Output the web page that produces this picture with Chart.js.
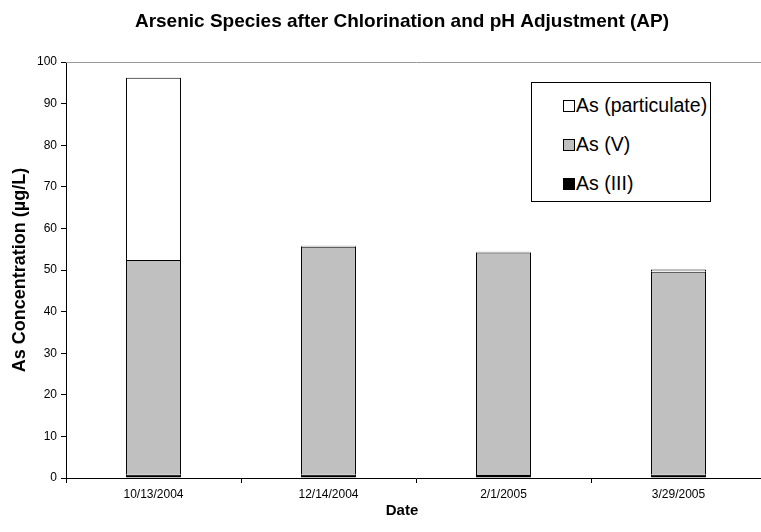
<!DOCTYPE html>
<html>
<head>
<meta charset="utf-8">
<script src="https://cdn.jsdelivr.net/npm/chart.js@4"></script>
<style>
  html, body { margin: 0; padding: 0; background: #fff; overflow: hidden; }
  #wrap { position: relative; width: 761px; height: 532px; overflow: hidden; }
  #legend {
    position: absolute; left: 531px; top: 82px; width: 178px; height: 118px;
    border: 1px solid #000; background: #fff;
    font-family: "Liberation Sans", Arial, sans-serif; font-size: 19.5px; color: #000;
  }
  #legend .item { position: absolute; left: 31px; height: 22px; line-height: 22px; white-space: nowrap; }
  #legend .box { display: inline-block; width: 10px; height: 10px; border: 1px solid #000; margin-right: 1px; vertical-align: 0px; }
</style>
</head>
<body>
<div id="wrap">
  <canvas id="chart" width="804" height="532"></canvas>
  <div id="legend"></div>
</div>
<script>
// sample dates
const dates = ['10/13/2004', '12/14/2004', '2/1/2005', '3/29/2005'];
// As concentrations in ug/L
const as3 = [0.8, 0.8, 0.7, 0.8];
const as5 = [51.6, 54.8, 53.5, 48.8];
const asPart = [43.8, 0.2, 0.2, 0.5];
const yTicks = [0, 10, 20, 30, 40, 50, 60, 70, 80, 90, 100];

const fontFam = '"Liberation Sans", Arial, sans-serif';

const ctx = document.getElementById('chart');
const chart = new Chart(ctx, {
  type: 'bar',
  data: {
    labels: dates,
    datasets: [
      { label: 'As (III)', data: as3, backgroundColor: '#000000' },
      { label: 'As (V)', data: as5, backgroundColor: '#c0c0c0' },
      { label: 'As (particulate)', data: asPart, backgroundColor: '#ffffff' }
    ].map(d => Object.assign(d, {
      xAxisID: 'x',
      yAxisID: 'y',
      borderColor: '#000000',
      borderWidth: 1,
      categoryPercentage: 1,
      barPercentage: 0.314
    }))
  },
  options: {
    responsive: false,
    animation: false,
    layout: { padding: 0 },
    plugins: {
      legend: { display: false },
      tooltip: { enabled: false },
      title: {
        display: true,
        text: 'Arsenic Species after Chlorination and pH Adjustment (AP)',
        color: '#000',
        font: { family: fontFam, size: 19, weight: 'bold' },
        padding: { top: 10.6, bottom: 28.6 }
      },
      subtitle: {
        display: true,
        position: 'bottom',
        text: 'Date',
        color: '#000',
        font: { family: fontFam, size: 15, weight: 'bold' },
        padding: { top: 0, bottom: 12 }
      }
    },
    scales: {
      x: {
        stacked: true,
        afterFit: s => { s.height = 24; },
        grid: { display: true, offset: true, drawOnChartArea: false, drawTicks: true, tickLength: 5, color: '#000' },
        border: { display: true, color: '#000', width: 1 },
        ticks: { color: '#000', font: { family: fontFam, size: 12 }, padding: 4, maxRotation: 0 }
      },
      y: {
        stacked: true,
        min: 0,
        max: 100,
        afterFit: s => { s.width = 66; },
        afterBuildTicks: s => { s.ticks = yTicks.map(v => ({ value: v })); },
        grid: { display: true, drawOnChartArea: false, drawTicks: true, tickLength: 5, color: '#000' },
        border: { display: true, color: '#000', width: 1 },
        ticks: { color: '#000', font: { family: fontFam, size: 12 }, padding: 4 },
        title: {
          display: true,
          text: 'As Concentration (µg/L)',
          color: '#000',
          font: { family: fontFam, size: 18, weight: 'bold' },
          padding: { top: 9, bottom: 0 }
        }
      },
      xTop: {
        axis: 'x',
        type: 'category',
        position: 'top',
        afterFit: s => { s.height = 0; },
        grid: { display: false },
        ticks: { display: false },
        border: { display: true, color: '#999', width: 1 }
      },
      // empty right axis, only keeps room so the titles centre like the original
      yRight: {
        axis: 'y',
        type: 'linear',
        position: 'right',
        afterFit: s => { s.width = 38; },
        grid: { display: false },
        ticks: { display: false },
        border: { display: false }
      }
    }
  }
});

// legend, top entry first like the original
const legend = document.getElementById('legend');
chart.data.datasets.slice().reverse().forEach((ds, i) => {
  const item = document.createElement('div');
  item.className = 'item';
  item.style.top = (11 + i * 39) + 'px';
  const box = document.createElement('span');
  box.className = 'box';
  box.style.background = ds.backgroundColor;
  item.appendChild(box);
  item.appendChild(document.createTextNode(ds.label));
  legend.appendChild(item);
});
</script>
</body>
</html>
